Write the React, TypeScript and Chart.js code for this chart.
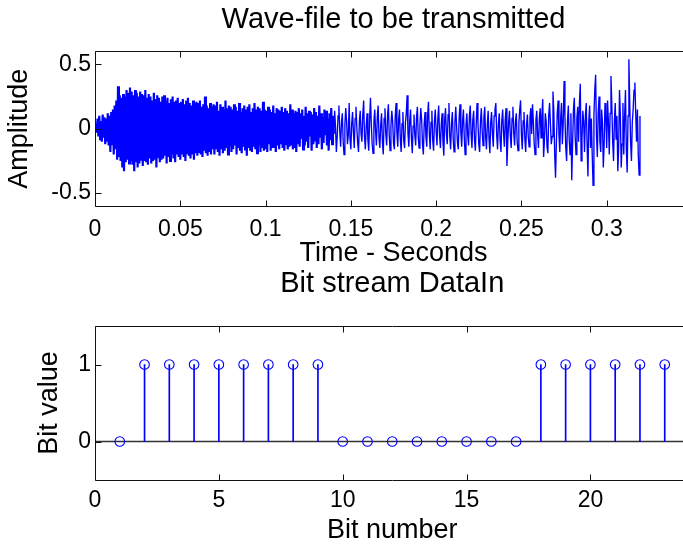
import React, { useEffect, useRef } from "react";
import { Chart, registerables } from "chart.js";

Chart.register(...registerables);

const FONT_FAMILY = "'Liberation Sans', Arial, Helvetica, sans-serif";

// ---------- Top panel: wave file ----------
const WAVE_TITLE = "Wave-file to be transmitted";
const WAVE_X_LABEL = "Time - Seconds";
const WAVE_Y_LABEL = "Amplitude";
const WAVE_SAMPLE_RATE = 2000; // samples per second of the (decimated) trace below
const waveAmplitude = [
  0, 0.04, -0.03, 0.08, -0.06, 0.1, -0.08, 0.06, -0.1, 0.11, -0.07, 0.09, -0.12, 0.08, -0.1, 0.12, -0.13, 0.1, -0.18, 0.13,
  -0.12, 0.15, -0.2, 0.18, -0.16, 0.22, -0.24, 0.33, -0.22, 0.26, -0.25, 0.24, -0.3, 0.27, -0.33, 0.25, -0.26, 0.3, -0.24, 0.28,
  -0.27, 0.32, -0.25, 0.29, -0.28, 0.26, -0.33, 0.3, -0.26, 0.28, -0.3, 0.25, -0.27, 0.29, -0.24, 0.27, -0.29, 0.26, -0.25, 0.3,
  -0.26, 0.24, -0.28, 0.27, -0.23, 0.25, -0.27, 0.22, -0.25, 0.28, -0.24, 0.23, -0.3, 0.26, -0.22, 0.24, -0.26, 0.21, -0.24, 0.25,
  -0.23, 0.26, -0.21, 0.22, -0.27, 0.24, -0.22, 0.2, -0.25, 0.23, -0.2, 0.25, -0.23, 0.21, -0.26, 0.22, -0.2, 0.24, -0.22, 0.2,
  -0.24, 0.21, -0.2, 0.23, -0.22, 0.19, -0.25, 0.22, -0.19, 0.24, -0.21, 0.2, -0.23, 0.18, -0.2, 0.22, -0.24, 0.2, -0.19, 0.21,
  -0.21, 0.2, -0.18, 0.22, -0.2, 0.17, -0.22, 0.19, -0.17, 0.25, -0.19, 0.18, -0.21, 0.16, -0.18, 0.2, -0.2, 0.17, -0.16, 0.19,
  -0.2, 0.18, -0.15, 0.21, -0.18, 0.14, -0.21, 0.19, -0.16, 0.17, -0.19, 0.15, -0.17, 0.22, -0.15, 0.16, -0.2, 0.18, -0.14, 0.17,
  -0.18, 0.15, -0.16, 0.19, -0.13, 0.17, -0.2, 0.14, -0.15, 0.2, -0.17, 0.13, -0.19, 0.16, -0.14, 0.18, -0.16, 0.15, -0.21, 0.17,
  -0.15, 0.19, -0.17, 0.13, -0.18, 0.16, -0.14, 0.2, -0.16, 0.15, -0.19, 0.17, -0.13, 0.16, -0.18, 0.14, -0.15, 0.21, -0.17, 0.15,
  -0.16, 0.14, -0.18, 0.17, -0.12, 0.15, -0.17, 0.13, -0.15, 0.18, -0.14, 0.12, -0.18, 0.16, -0.13, 0.15, -0.16, 0.14, -0.12, 0.17,
  -0.15, 0.13, -0.17, 0.16, -0.12, 0.14, -0.16, 0.12, -0.14, 0.19, -0.13, 0.15, -0.16, 0.12, -0.15, 0.14, -0.18, 0.13, -0.12, 0.16,
  -0.14, 0.12, -0.08, 0.15, -0.16, 0.1, -0.13, 0.17, -0.1, 0.12, -0.15, 0.14, -0.06, 0.13, -0.17, 0.11, -0.12, 0.16, -0.09, 0.13,
  -0.15, 0.1, -0.12, 0.18, -0.07, 0.12, -0.16, 0.09, -0.11, 0.15, -0.05, 0.14, -0.13, 0.08, -0.17, 0.12, -0.09, 0.16, -0.12, 0.1,
  -0.04, 0.14, 0.02, -0.18, -0.06, 0.1, 0.18, -0.02, -0.14, 0.05, 0.12, -0.1, -0.2, 0.03, 0.16, 0.06, -0.12, -0.05, 0.2, -0.08,
  -0.16, 0.04, 0.13, -0.03, -0.15, 0.08, 0.17, 0.01, -0.11, -0.18, 0.06, 0.14, -0.04, -0.1, 0.11, 0.22, -0.06, -0.16, 0.02, 0.12,
  -0.09, -0.17, 0.07, 0.24, 0.03, -0.12, -0.19, 0.05, 0.15, -0.02, -0.13, 0.09, 0.18, -0.07, -0.15, 0.03, 0.12, -0.1, -0.2, 0.08,
  0.16, -0.04, -0.13, 0.1, 0.19, -0.05, -0.17, 0.02, 0.14, 0.06, -0.11, -0.16, 0.09, 0.2, -0.03, -0.14, 0.07, 0.15, -0.08, -0.18,
  0.04, 0.13, -0.09, -0.15, 0.05, 0.12, 0.26, -0.04, -0.14, 0.06, 0.15, -0.07, -0.19, 0.02, 0.11, -0.05, -0.13, 0.09, 0.17, -0.06,
  -0.15, 0.03, 0.16, 0.07, -0.12, -0.2, 0.04, 0.13, -0.06, -0.14, 0.1, 0.21, -0.03, -0.16, 0.05, 0.14, -0.09, -0.17, 0.06, 0.15,
  -0.02, -0.13, 0.08, 0.18, -0.05, -0.15, 0.03, 0.12, -0.1, -0.21, 0.07, 0.16, -0.04, -0.12, 0.11, 0.2, -0.06, -0.16, 0.04, 0.13,
  -0.08, -0.18, 0.05, 0.17, 0.02, -0.11, -0.16, 0.09, 0.19, -0.03, -0.14, 0.06, 0.15, -0.07, -0.2, 0.03, 0.12, -0.05, -0.13, 0.1,
  0.18, -0.04, -0.15, 0.07, 0.14, -0.09, -0.17, 0.04, 0.2, 0.05, -0.12, -0.18, 0.06, 0.16, -0.02, -0.13, 0.09, 0.17, -0.06, -0.16,
  0.03, 0.14, -0.08, -0.19, 0.05, 0.13, -0.04, -0.14, 0.1, 0.15, 0.2, -0.05, -0.16, 0.04, 0.12, -0.09, -0.18, 0.06, 0.15, -0.03,
  -0.14, 0.07, 0.16, -0.29, -0.1, 0.05, 0.14, -0.06, -0.15, 0.08, 0.17, -0.03, -0.13, 0.06, 0.12, -0.1, -0.17, 0.04, 0.15, 0.22,
  -0.05, -0.16, 0.06, 0.13, -0.08, -0.18, 0.03, 0.11, -0.06, -0.14, 0.09, 0.16, -0.04, 0.19, 0.05, -0.12, -0.2, 0.07, 0.14, -0.05,
  -0.15, 0.08, 0.16, -0.07, 0.1, 0.23, -0.22, -0.09, 0.12, 0.06, -0.14, -0.19, 0.1, 0.2, 0.04, -0.12, -0.06, 0.29, 0.13, -0.2,
  -0.38, -0.1, 0.12, 0.22, -0.05, -0.18, 0.08, 0.2, -0.12, 0.04, 0.37, 0.1, -0.15, -0.25, 0.06, 0.18, -0.08, -0.2, 0.12, -0.4,
  -0.12, 0.15, 0.24, -0.06, -0.2, 0.08, 0.17, -0.1, 0.2, 0.35, -0.25, -0.08, 0.14, 0.05, -0.18, 0.1, 0.2, -0.12, -0.37, 0.06,
  0.18, -0.15, 0.08, -0.2, -0.44, 0.1, 0.3, 0.42, -0.05, -0.22, 0.12, 0.25, -0.1, -0.18, 0.15, 0.05, -0.3, -0.12, 0.2, 0.1,
  -0.15, 0.22, 0.05, -0.2, 0.12, 0.41, 0.18, -0.1, -0.25, 0.06, 0.2, -0.08, 0.1, -0.33, -0.15, 0.3, 0.1, -0.3, -0.12, 0.2,
  -0.2, 0.1, 0.3, -0.15, -0.34, 0.1, 0.54, 0.2, -0.1, -0.25, 0.05, 0.15, 0.3, 0.36, 0.12, -0.1, 0.15, -0.2, -0.36, 0.1,
];
const WAVE_DENSE_END = 0.14; // the trace is drawn as a solid dense band up to here
const waveXRange = [0, 0.35];
const waveYRange = [-0.6, 0.6];
const waveXTicks = [0, 0.05, 0.1, 0.15, 0.2, 0.25, 0.3];
const waveXTickLabels = ["0", "0.05", "0.1", "0.15", "0.2", "0.25", "0.3"];
const waveYTicks = [-0.5, 0, 0.5];
const waveYTickLabels = ["-0.5", "0", "0.5"];

// ---------- Bottom panel: bit stream ----------
const BITS_TITLE = "Bit stream DataIn";
const BITS_X_LABEL = "Bit number";
const BITS_Y_LABEL = "Bit value";
const bitNumbers = [1, 2, 3, 4, 5, 6, 7, 8, 9, 10, 11, 12, 13, 14, 15, 16, 17, 18, 19, 20, 21, 22, 23];
const bitValues = [0, 1, 1, 1, 1, 1, 1, 1, 1, 0, 0, 0, 0, 0, 0, 0, 0, 1, 1, 1, 1, 1, 1];
const bitXRange = [0, 24];
const bitYRange = [-0.5, 1.5];
const bitXTicks = [0, 5, 10, 15, 20];
const bitXTickLabels = ["0", "5", "10", "15", "20"];
const bitYTicks = [0, 1];
const bitYTickLabels = ["0", "1"];

const BLUE = "#0000ff";
const TICK_FONT = { family: FONT_FAMILY, size: 23, lineHeight: 1.2 };
const LABEL_FONT = { family: FONT_FAMILY, size: 27, lineHeight: 1 };
const TITLE_FONT = { family: FONT_FAMILY, size: 29, lineHeight: 1, weight: "normal" as const };

// Matlab-like axes: full box, inward tick marks, optional stem baseline.
const axesBox = {
  id: "axesBox",
  beforeDatasetsDraw(chart: any, _args: any, opts: any) {
    if (!opts || !opts.baseline) return;
    const { ctx, chartArea, scales } = chart;
    const y0 = scales.y.getPixelForValue(0);
    ctx.save();
    ctx.strokeStyle = "#333";
    ctx.lineWidth = 1.6;
    ctx.beginPath();
    ctx.moveTo(chartArea.left, y0);
    ctx.lineTo(chartArea.right, y0);
    ctx.stroke();
    ctx.restore();
  },
  afterDraw(chart: any) {
    const { ctx, chartArea, scales } = chart;
    const L = Math.floor(chartArea.left) + 0.5;
    const R = Math.floor(chartArea.right) + 0.5;
    const T = Math.floor(chartArea.top) + 0.5;
    const B = Math.floor(chartArea.bottom) + 0.5;
    const len = 6;
    ctx.save();
    ctx.strokeStyle = "#111";
    ctx.lineWidth = 1;
    ctx.beginPath();
    ctx.rect(L, T, R - L, B - T);
    const xs = scales.x;
    xs.ticks.forEach((t: any) => {
      const px = Math.round(xs.getPixelForValue(t.value)) + 0.5;
      ctx.moveTo(px, B);
      ctx.lineTo(px, B - len);
      ctx.moveTo(px, T);
      ctx.lineTo(px, T + len);
    });
    const ys = scales.y;
    ys.ticks.forEach((t: any) => {
      const py = Math.round(ys.getPixelForValue(t.value)) + 0.5;
      ctx.moveTo(L, py);
      ctx.lineTo(L + len, py);
      ctx.moveTo(R, py);
      ctx.lineTo(R - len, py);
    });
    ctx.stroke();
    ctx.restore();
  },
};

function makeWaveConfig(): any {
  const points = waveAmplitude.map((v, i) => ({ x: i / WAVE_SAMPLE_RATE, y: v }));
  return {
    type: "line",
    data: {
      datasets: [
        {
          data: points,
          borderColor: BLUE,
          borderWidth: 1.35,
          segment: {
            borderWidth: (c: any) => (c.p1.parsed.x <= WAVE_DENSE_END ? 2.2 : 1.35),
          },
          pointRadius: 0,
          tension: 0,
          fill: false,
        },
      ],
    },
    options: {
      responsive: false,
      animation: false,
      events: [],
      layout: { padding: { left: 0, right: 28, top: 0, bottom: 0 } },
      plugins: {
        legend: { display: false },
        tooltip: { enabled: false },
        title: {
          display: true,
          text: WAVE_TITLE,
          color: "#000",
          fullSize: false,
          font: TITLE_FONT,
          padding: { top: 5, bottom: 17.5 },
        },
        axesBox: {},
      },
      scales: {
        x: {
          type: "linear",
          min: waveXRange[0],
          max: waveXRange[1],
          afterBuildTicks: (s: any) => {
            s.ticks = waveXTicks.map((v) => ({ value: v }));
          },
          afterFit: (s: any) => {
            s.height = 60;
          },
          grid: { display: false, drawTicks: false },
          border: { display: false },
          ticks: {
            color: "#000",
            font: TICK_FONT,
            padding: 10,
            maxRotation: 0,
            autoSkip: false,
            callback: (v: number) => waveXTickLabels[waveXTicks.indexOf(v)],
          },
          title: {
            display: true,
            text: WAVE_X_LABEL,
            color: "#000",
            font: LABEL_FONT,
            padding: { top: 0, bottom: -1 },
          },
        },
        y: {
          type: "linear",
          min: waveYRange[0],
          max: waveYRange[1],
          afterBuildTicks: (s: any) => {
            s.ticks = waveYTicks.map((v) => ({ value: v }));
          },
          afterFit: (s: any) => {
            s.width = 95;
          },
          grid: { display: false, drawTicks: false },
          border: { display: false },
          ticks: {
            color: "#000",
            font: TICK_FONT,
            padding: 4,
            autoSkip: false,
            callback: (v: number) => waveYTickLabels[waveYTicks.indexOf(v)],
          },
          title: {
            display: true,
            text: WAVE_Y_LABEL,
            color: "#000",
            font: LABEL_FONT,
            padding: { top: 6, bottom: 0 },
          },
        },
      },
    },
    plugins: [axesBox],
  };
}

function makeBitsConfig(): any {
  const pts = bitNumbers.map((n, i) => ({ x: n, y: bitValues[i] }));
  return {
    type: "bar",
    data: {
      datasets: [
        {
          type: "bar",
          data: pts,
          backgroundColor: BLUE,
          borderWidth: 0,
          barThickness: 1,
          order: 1,
        },
        {
          type: "scatter",
          data: pts,
          pointStyle: "circle",
          pointRadius: 4.8,
          pointBorderWidth: 1.1,
          borderColor: BLUE,
          backgroundColor: "rgba(0,0,0,0)",
          showLine: false,
          order: 0,
        },
      ],
    },
    options: {
      responsive: false,
      animation: false,
      events: [],
      layout: { padding: { left: 0, right: 30.5, top: 0, bottom: 0 } },
      plugins: {
        legend: { display: false },
        tooltip: { enabled: false },
        title: {
          display: true,
          text: BITS_TITLE,
          color: "#000",
          fullSize: false,
          font: TITLE_FONT,
          padding: { top: 3, bottom: 28 },
        },
        axesBox: { baseline: true },
      },
      scales: {
        x: {
          type: "linear",
          min: bitXRange[0],
          max: bitXRange[1],
          offset: false,
          afterBuildTicks: (s: any) => {
            s.ticks = bitXTicks.map((v) => ({ value: v }));
          },
          afterFit: (s: any) => {
            s.height = 64;
          },
          grid: { display: false, drawTicks: false, offset: false },
          border: { display: false },
          ticks: {
            color: "#000",
            font: TICK_FONT,
            padding: 7,
            maxRotation: 0,
            autoSkip: false,
            callback: (v: number) => bitXTickLabels[bitXTicks.indexOf(v)],
          },
          title: {
            display: true,
            text: BITS_X_LABEL,
            color: "#000",
            font: LABEL_FONT,
            padding: { top: 0, bottom: 0 },
          },
        },
        y: {
          type: "linear",
          min: bitYRange[0],
          max: bitYRange[1],
          afterBuildTicks: (s: any) => {
            s.ticks = bitYTicks.map((v) => ({ value: v }));
          },
          afterFit: (s: any) => {
            s.width = 95;
          },
          grid: { display: false, drawTicks: false },
          border: { display: false },
          ticks: {
            color: "#000",
            font: TICK_FONT,
            padding: 4,
            autoSkip: false,
            callback: (v: number) => bitYTickLabels[bitYTicks.indexOf(v)],
          },
          title: {
            display: true,
            text: BITS_Y_LABEL,
            color: "#000",
            font: LABEL_FONT,
            padding: { top: 36, bottom: 0 },
          },
        },
      },
    },
    plugins: [axesBox],
  };
}

export default function App() {
  const topRef = useRef<HTMLCanvasElement>(null);
  const botRef = useRef<HTMLCanvasElement>(null);

  useEffect(() => {
    const c1 = new Chart(topRef.current as HTMLCanvasElement, makeWaveConfig());
    const c2 = new Chart(botRef.current as HTMLCanvasElement, makeBitsConfig());
    return () => {
      c1.destroy();
      c2.destroy();
    };
  }, []);

  return (
    <div
      style={{
        position: "absolute",
        left: 0,
        top: 0,
        width: 683,
        height: 544,
        overflow: "hidden",
        background: "#fff",
      }}
    >
      <div style={{ position: "absolute", left: 0, top: 0, width: 720, height: 266 }}>
        <canvas ref={topRef} width={720} height={266} style={{ display: "block" }} />
      </div>
      <div style={{ position: "absolute", left: 0, top: 266, width: 720, height: 278 }}>
        <canvas ref={botRef} width={720} height={278} style={{ display: "block" }} />
      </div>
    </div>
  );
}
